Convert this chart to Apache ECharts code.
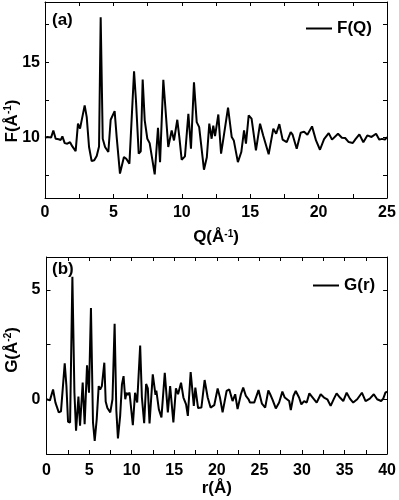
<!DOCTYPE html>
<html>
<head>
<meta charset="utf-8">
<script src="https://cdn.jsdelivr.net/npm/echarts@6/dist/echarts.min.js"></script>
<style>
  html, body { margin: 0; padding: 0; background: #fff; }
  #chart { width: 399px; height: 500px; }
</style>
</head>
<body>
<div id="chart"></div>
<script type="text/javascript">
// panel (a): F(Q), Q in 1/Angstrom
var fqData = [
  [0,10.0],[0.17,10.04],[0.45,10.02],[0.61,10.48],[0.78,9.93],[1.0,9.9],[1.15,9.85],[1.27,10.09],
  [1.44,9.64],[1.63,9.6],[1.83,9.7],[2.0,9.42],[2.24,9.11],[2.41,10.93],[2.56,10.6],[2.9,12.14],
  [3.05,11.36],[3.22,9.38],[3.41,8.45],[3.6,8.5],[3.78,8.78],[3.95,9.42],[4.07,17.99],[4.22,9.93],
  [4.39,9.38],[4.63,9.05],[4.8,11.19],[4.93,11.3],[5.09,11.76],[5.24,10.04],[5.48,7.62],[5.77,8.72],
  [5.94,8.6],[6.17,8.28],[6.51,14.41],[6.65,12.47],[6.85,8.94],[7.0,9.1],[7.14,13.86],[7.29,11.15],
  [7.48,9.93],[7.65,9.64],[8.02,7.57],[8.26,10.66],[8.41,8.38],[8.65,13.84],[9.01,9.38],[9.26,10.48],
  [9.43,9.82],[9.67,11.19],[9.82,10.04],[9.99,8.54],[10.23,8.76],[10.48,11.59],[10.67,9.27],[10.89,13.68],
  [11.09,11.03],[11.27,10.7],[11.62,7.88],[11.83,8.7],[12.01,10.93],[12.18,9.93],[12.3,10.8],[12.43,10.1],
  [12.67,11.54],[12.87,8.94],[13.04,9.94],[13.38,11.99],[13.65,10.04],[13.8,9.82],[14.1,8.38],[14.35,9.05],
  [14.55,10.48],[14.69,9.6],[14.89,11.48],[15.1,11.26],[15.42,9.16],[15.72,10.93],[15.95,10.15],[16.35,8.9],
  [16.69,10.6],[16.9,10.26],[17.13,10.9],[17.37,9.87],[17.67,9.7],[17.96,10.37],[18.1,10.2],[18.4,9.27],
  [18.69,10.33],[18.94,10.4],[19.18,10.2],[19.52,10.75],[19.81,9.82],[20.1,9.2],[20.4,9.9],[20.74,10.3],
  [20.98,9.87],[21.42,10.26],[21.7,10.0],[21.94,9.98],[22.2,9.71],[22.5,9.65],[22.7,9.9],[22.98,10.22],
  [23.27,9.7],[23.56,10.15],[23.87,10.05],[24.2,10.26],[24.44,9.87],[24.63,9.92],[24.85,9.87],[25.0,10.04]
];

// panel (b): G(r), r in Angstrom
var grData = [
  [0,0],[0.4,-0.05],[0.77,0.45],[1.05,-0.15],[1.44,-0.6],[1.7,-0.55],[1.9,-0.5],[2.14,1.64],
  [2.34,0.6],[2.53,-1.03],[2.77,-1.06],[3.04,5.6],[3.28,0.3],[3.47,-1.44],[3.75,0.12],[3.94,-1.21],
  [4.25,0.76],[4.48,-1.14],[4.76,1.55],[4.99,0.3],[5.22,4.17],[5.46,-1.06],[5.66,-1.9],[5.9,-0.9],
  [6.13,0.6],[6.3,0.45],[6.5,0.6],[6.79,1.67],[6.95,-0.1],[7.15,-0.4],[7.49,-0.6],[7.75,0.0],
  [8.0,3.45],[8.2,-0.5],[8.39,-1.79],[8.65,-0.76],[8.86,0.68],[9.05,1.06],[9.25,0.0],[9.4,0.3],
  [9.55,0.2],[9.75,0.3],[10.14,-1.18],[10.4,0.3],[10.65,-0.15],[11.0,2.45],[11.2,0.1],[11.47,-1.09],
  [11.7,0.7],[11.9,0.5],[12.1,-1.1],[12.48,1.14],[12.8,0.2],[12.9,0.4],[13.19,-0.45],[13.5,-0.83],
  [13.89,1.21],[14.25,-0.6],[14.52,0.6],[14.9,-1.06],[15.2,0.5],[15.45,0.23],[15.8,0.76],[16.08,0.08],
  [16.39,-0.23],[16.6,-0.76],[16.93,1.24],[17.3,-0.3],[17.48,0.53],[17.8,-0.4],[18.19,-0.38],[18.57,0.88],
  [18.93,0.08],[19.27,-0.38],[19.7,-0.27],[20.1,0.49],[20.37,0.08],[20.68,-0.6],[21.15,0.38],[21.47,0.45],
  [21.85,-0.08],[22.16,0.23],[22.44,-0.45],[22.83,0.23],[23.1,0.53],[23.42,0.15],[23.73,0.0],[23.9,-0.15],
  [24.39,-0.15],[24.9,0.42],[25.3,-0.2],[25.68,-0.38],[26.05,0.4],[26.27,0.23],[26.53,0.0],[26.93,-0.42],
  [27.32,-0.15],[27.7,0.35],[27.98,0.08],[28.2,0.15],[28.5,-0.08],[28.69,-0.49],[29.0,0.15],[29.27,0.38],
  [29.66,0.08],[29.93,-0.23],[30.25,-0.08],[30.56,-0.15],[30.87,0.27],[31.26,0.08],[31.73,-0.15],[32.2,0.23],
  [32.59,0.08],[32.98,0.0],[33.37,-0.3],[33.76,0.03],[34.07,0.27],[34.46,0.08],[34.85,-0.08],[35.25,0.3],
  [35.63,0.03],[36.02,-0.15],[36.49,0.0],[37.04,0.3],[37.47,-0.08],[37.97,0.03],[38.44,0.23],[38.83,0.0],
  [39.3,-0.08],[39.55,0.03],[39.8,0.3],[40.0,0.35]
];

var fqTicks = [7.5, 10, 12.5, 15, 17.5];
var fqLabels = [10, 15];
var grTicks = [0, 2.5, 5];
var grLabels = [0, 5];

var font = '"Liberation Sans", Arial, sans-serif';
var rich = {
  b: { fontSize: 17, fontWeight: 'bold', fontFamily: font, color: '#000' },
  s: { fontSize: 10, fontWeight: 'bold', fontFamily: font, color: '#000', verticalAlign: 'top' }
};
var lbl = { color: '#000', fontSize: 16, fontWeight: 'bold', fontFamily: font };
// onZero off, otherwise the frame axes jump to the zero line
var axLine = { show: true, onZero: false, lineStyle: { color: '#000', width: 1 } };
var tick = { show: true, inside: true, length: 4, lineStyle: { color: '#000', width: 1 } };
var minor = { show: true, splitNumber: 2, length: 4, lineStyle: { color: '#000', width: 1 } };

var chart = echarts.init(document.getElementById('chart'), null, { renderer: 'canvas' });

var option = {
  animation: false,
  backgroundColor: '#fff',
  grid: [
    { left: 45, top: 2, width: 342, height: 196 },
    { left: 46.5, top: 257, width: 341.5, height: 197 }
  ],
  legend: [
    { data: ['F(Q)'], left: 301, top: 15, icon: 'rect', itemWidth: 26, itemHeight: 2,
      textStyle: { color: '#000', fontSize: 17, fontWeight: 'bold', fontFamily: font } },
    { data: ['G(r)'], left: 308, top: 272, icon: 'rect', itemWidth: 26, itemHeight: 2,
      textStyle: { color: '#000', fontSize: 17, fontWeight: 'bold', fontFamily: font } }
  ],
  xAxis: [
    { gridIndex: 0, type: 'value', min: 0, max: 25, interval: 5, position: 'bottom',
      axisLine: axLine, axisTick: tick, minorTick: minor, splitLine: { show: false },
      axisLabel: Object.assign({ margin: 7 }, lbl),
      name: '{b|Q(Å}{s|-1}{b|)}', nameLocation: 'middle', nameGap: 31,
      nameTextStyle: { rich: rich } },
    { gridIndex: 0, type: 'value', min: 0, max: 25, interval: 5, position: 'top',
      axisLine: axLine, axisTick: tick, minorTick: minor, splitLine: { show: false },
      axisLabel: { show: false } },
    { gridIndex: 1, type: 'value', min: 0, max: 40, interval: 5, position: 'bottom',
      axisLine: axLine, axisTick: tick, minorTick: minor, splitLine: { show: false },
      axisLabel: Object.assign({ margin: 9 }, lbl),
      name: '{b|r(Å)}', nameLocation: 'middle', nameGap: 24,
      nameTextStyle: { rich: rich } },
    { gridIndex: 1, type: 'value', min: 0, max: 40, interval: 5, position: 'top',
      axisLine: axLine, axisTick: tick, minorTick: minor, splitLine: { show: false },
      axisLabel: { show: false } }
  ],
  yAxis: [
    { gridIndex: 0, type: 'value', min: 6, max: 19, position: 'left',
      axisLine: axLine, axisTick: Object.assign({ customValues: fqTicks }, tick),
      splitLine: { show: false },
      axisLabel: Object.assign({ customValues: fqLabels, margin: 5 }, lbl) },
    { gridIndex: 0, type: 'value', min: 6, max: 19, position: 'right',
      axisLine: axLine, axisTick: Object.assign({ customValues: fqTicks }, tick),
      splitLine: { show: false }, axisLabel: { show: false } },
    { gridIndex: 1, type: 'value', min: -2.5, max: 6.5, position: 'left',
      axisLine: axLine, axisTick: Object.assign({ customValues: grTicks }, tick),
      splitLine: { show: false },
      axisLabel: Object.assign({ customValues: grLabels, margin: 6 }, lbl) },
    { gridIndex: 1, type: 'value', min: -2.5, max: 6.5, position: 'right',
      axisLine: axLine, axisTick: Object.assign({ customValues: grTicks }, tick),
      splitLine: { show: false }, axisLabel: { show: false } }
  ],
  series: [
    { name: 'F(Q)', type: 'line', xAxisIndex: 0, yAxisIndex: 0, data: fqData,
      showSymbol: false, symbol: 'none', color: '#000',
      lineStyle: { color: '#000', width: 2 } },
    { name: 'G(r)', type: 'line', xAxisIndex: 2, yAxisIndex: 2, data: grData,
      showSymbol: false, symbol: 'none', color: '#000',
      lineStyle: { color: '#000', width: 2 } }
  ],
  graphic: [
    { type: 'text', left: 52, top: 12,
      style: { text: '(a)', fill: '#000', font: 'bold 17px ' + font } },
    { type: 'text', left: 52, top: 261,
      style: { text: '(b)', fill: '#000', font: 'bold 17px ' + font } },
    { type: 'text', x: 12, y: 121, rotation: Math.PI / 2,
      style: { text: '{b|F(Å}{s|-1}{b|)}', rich: rich, align: 'center', verticalAlign: 'middle' } },
    { type: 'text', x: 12, y: 350, rotation: Math.PI / 2,
      style: { text: '{b|G(Å}{s|-2}{b|)}', rich: rich, align: 'center', verticalAlign: 'middle' } }
  ]
};

chart.setOption(option);
</script>
</body>
</html>
